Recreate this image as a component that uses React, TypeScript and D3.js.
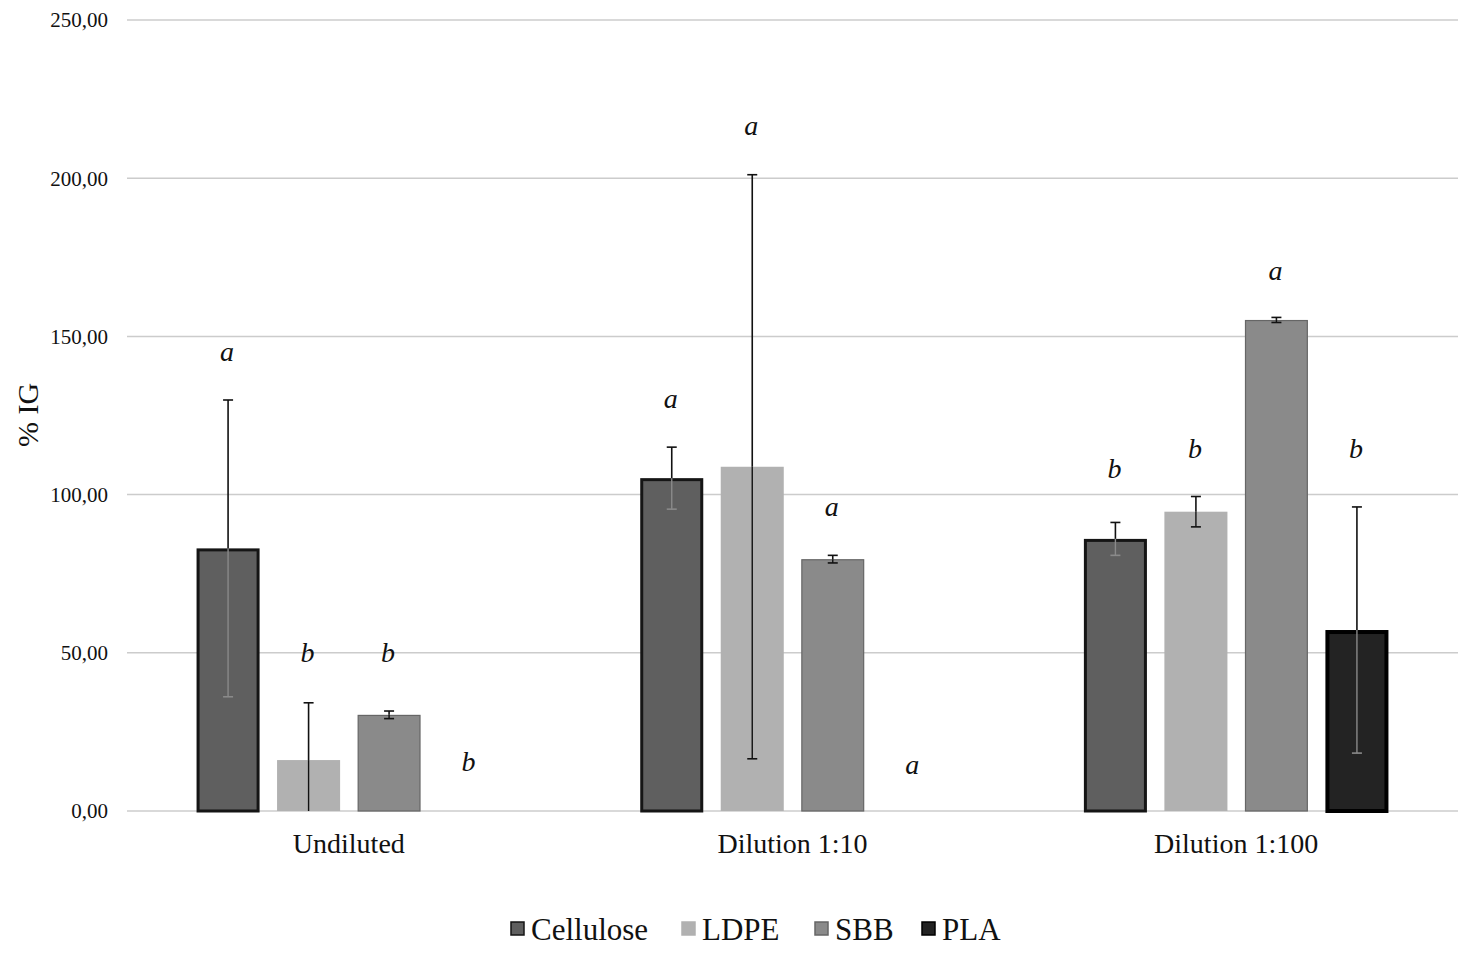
import React from "react";
import * as d3 from "d3";

const categories = ["Undiluted", "Dilution 1:10", "Dilution 1:100"];
const series = ["Cellulose", "LDPE", "SBB", "PLA"];
// values[series][category]
const cellulose = [83.0, 105.2, 86.0];
const ldpe = [16.1, 108.8, 94.6];
const sbb = [30.4, 79.6, 155.2];
const pla = [0, 0, 57.2];
const celluloseErr = [46.9, 9.8, 5.2];
const ldpeErr = [18.1, 92.3, 4.8];
const sbbErr = [1.2, 1.2, 0.8];
const plaErr = [0, 0, 38.9];
const celluloseLetters = ["a", "a", "b"];
const ldpeLetters = ["b", "a", "b"];
const sbbLetters = ["b", "a", "a"];
const plaLetters = ["b", "a", "b"];
// letter heights in % IG units
const celluloseLetterY = [144.8, 129.9, 107.8];
const ldpeLetterY = [49.9, 216.2, 114.1];
const sbbLetterY = [49.6, 95.8, 170.4];
const plaLetterY = [15.2, 14.5, 114.1];
const yTicks = [0, 50, 100, 150, 200, 250];

const values = [cellulose, ldpe, sbb, pla];
const errors = [celluloseErr, ldpeErr, sbbErr, plaErr];
const letters = [celluloseLetters, ldpeLetters, sbbLetters, plaLetters];
const letterY = [celluloseLetterY, ldpeLetterY, sbbLetterY, plaLetterY];

const styles = [
  { fill: "#5f5f5f", stroke: "#151515", sw: 3, inner: "#8a8a8a" },
  { fill: "#b1b1b1", stroke: "none", sw: 0, inner: "#111" },
  { fill: "#8a8a8a", stroke: "#666", sw: 1.2, inner: "#111" },
  { fill: "#232323", stroke: "#000", sw: 4, inner: "#8a8a8a" },
];

const W = 1461;
const H = 953;
const left = 127;
const right = 1458;
const top = 20;
const bottom = 811;
const FONT = "'Liberation Serif', 'Times New Roman', serif";

export default function App() {
  const y = d3.scaleLinear().domain([0, 250]).range([bottom, top]);
  const x0 = d3
    .scaleBand<string>()
    .domain(categories)
    .range([left, right])
    .paddingInner(0.274)
    .paddingOuter(0.137);
  const x1 = d3
    .scaleBand<string>()
    .domain(series)
    .range([0, x0.bandwidth()])
    .paddingInner(0.217)
    .paddingOuter(0.109);
  const bw = x1.bandwidth();
  const fmt = (v: number) => d3.format(".2f")(v).replace(".", ",");

  const legendX = [511, 682, 815, 922];

  return (
    <div style={{ position: "absolute", left: 0, top: 0 }}>
      <svg width={W} height={H} style={{ display: "block", background: "#fff" }} fontFamily={FONT}>
        {yTicks.map((t) => (
          <g key={t}>
            <line x1={left} x2={right} y1={y(t)} y2={y(t)} stroke="#cccccc" strokeWidth={1.5} />
            <text x={108} y={y(t)} dy="0.35em" textAnchor="end" fontSize={21} fill="#111">
              {fmt(t)}
            </text>
          </g>
        ))}
        <text
          transform={`translate(38,415) rotate(-90)`}
          textAnchor="middle"
          fontSize={30}
          fill="#111"
        >
          % IG
        </text>
        {categories.map((c, ci) => (
          <g key={c}>
            <text
              x={(x0(c) as number) + x0.bandwidth() / 2}
              y={853}
              textAnchor="middle"
              fontSize={28}
              fill="#111"
            >
              {c}
            </text>
            {series.map((s, si) => {
              const v = values[si][ci];
              const e = errors[si][ci];
              const st = styles[si];
              const bx = (x0(c) as number) + (x1(s) as number);
              const cx = bx + bw / 2;
              const yTop = y(v);
              const eTop = y(v + e);
              const eBot = y(Math.max(0, v - e));
              return (
                <g key={s}>
                  {v > 0 && (
                    <rect
                      x={bx + st.sw / 2}
                      y={yTop + st.sw / 2}
                      width={bw - st.sw}
                      height={Math.max(0, bottom - yTop - st.sw / 2)}
                      fill={st.fill}
                      stroke={st.stroke}
                      strokeWidth={st.sw}
                    />
                  )}
                  {e > 0 && (
                    <g>
                      <line x1={cx} x2={cx} y1={eTop} y2={yTop} stroke="#111" strokeWidth={1.6} />
                      <line x1={cx} x2={cx} y1={yTop} y2={eBot} stroke={st.inner} strokeWidth={1.4} />
                      <line x1={cx - 5} x2={cx + 5} y1={eTop} y2={eTop} stroke="#111" strokeWidth={1.6} />
                      {v - e > 0 && (
                        <line x1={cx - 5} x2={cx + 5} y1={eBot} y2={eBot} stroke={st.inner} strokeWidth={1.6} />
                      )}
                    </g>
                  )}
                  <text
                    x={cx - 1}
                    y={y(letterY[si][ci])}
                    dy="0.3em"
                    textAnchor="middle"
                    fontSize={28}
                    fontStyle="italic"
                    fill="#111"
                  >
                    {letters[si][ci]}
                  </text>
                </g>
              );
            })}
          </g>
        ))}
        {series.map((s, si) => (
          <g key={s}>
            <rect
              x={legendX[si]}
              y={922}
              width={13}
              height={13}
              fill={styles[si].fill}
              stroke={styles[si].stroke === "none" ? styles[si].fill : styles[si].stroke}
              strokeWidth={1.5}
            />
            <text x={legendX[si] + 20} y={940} fontSize={31} fill="#111">
              {s}
            </text>
          </g>
        ))}
      </svg>
    </div>
  );
}
